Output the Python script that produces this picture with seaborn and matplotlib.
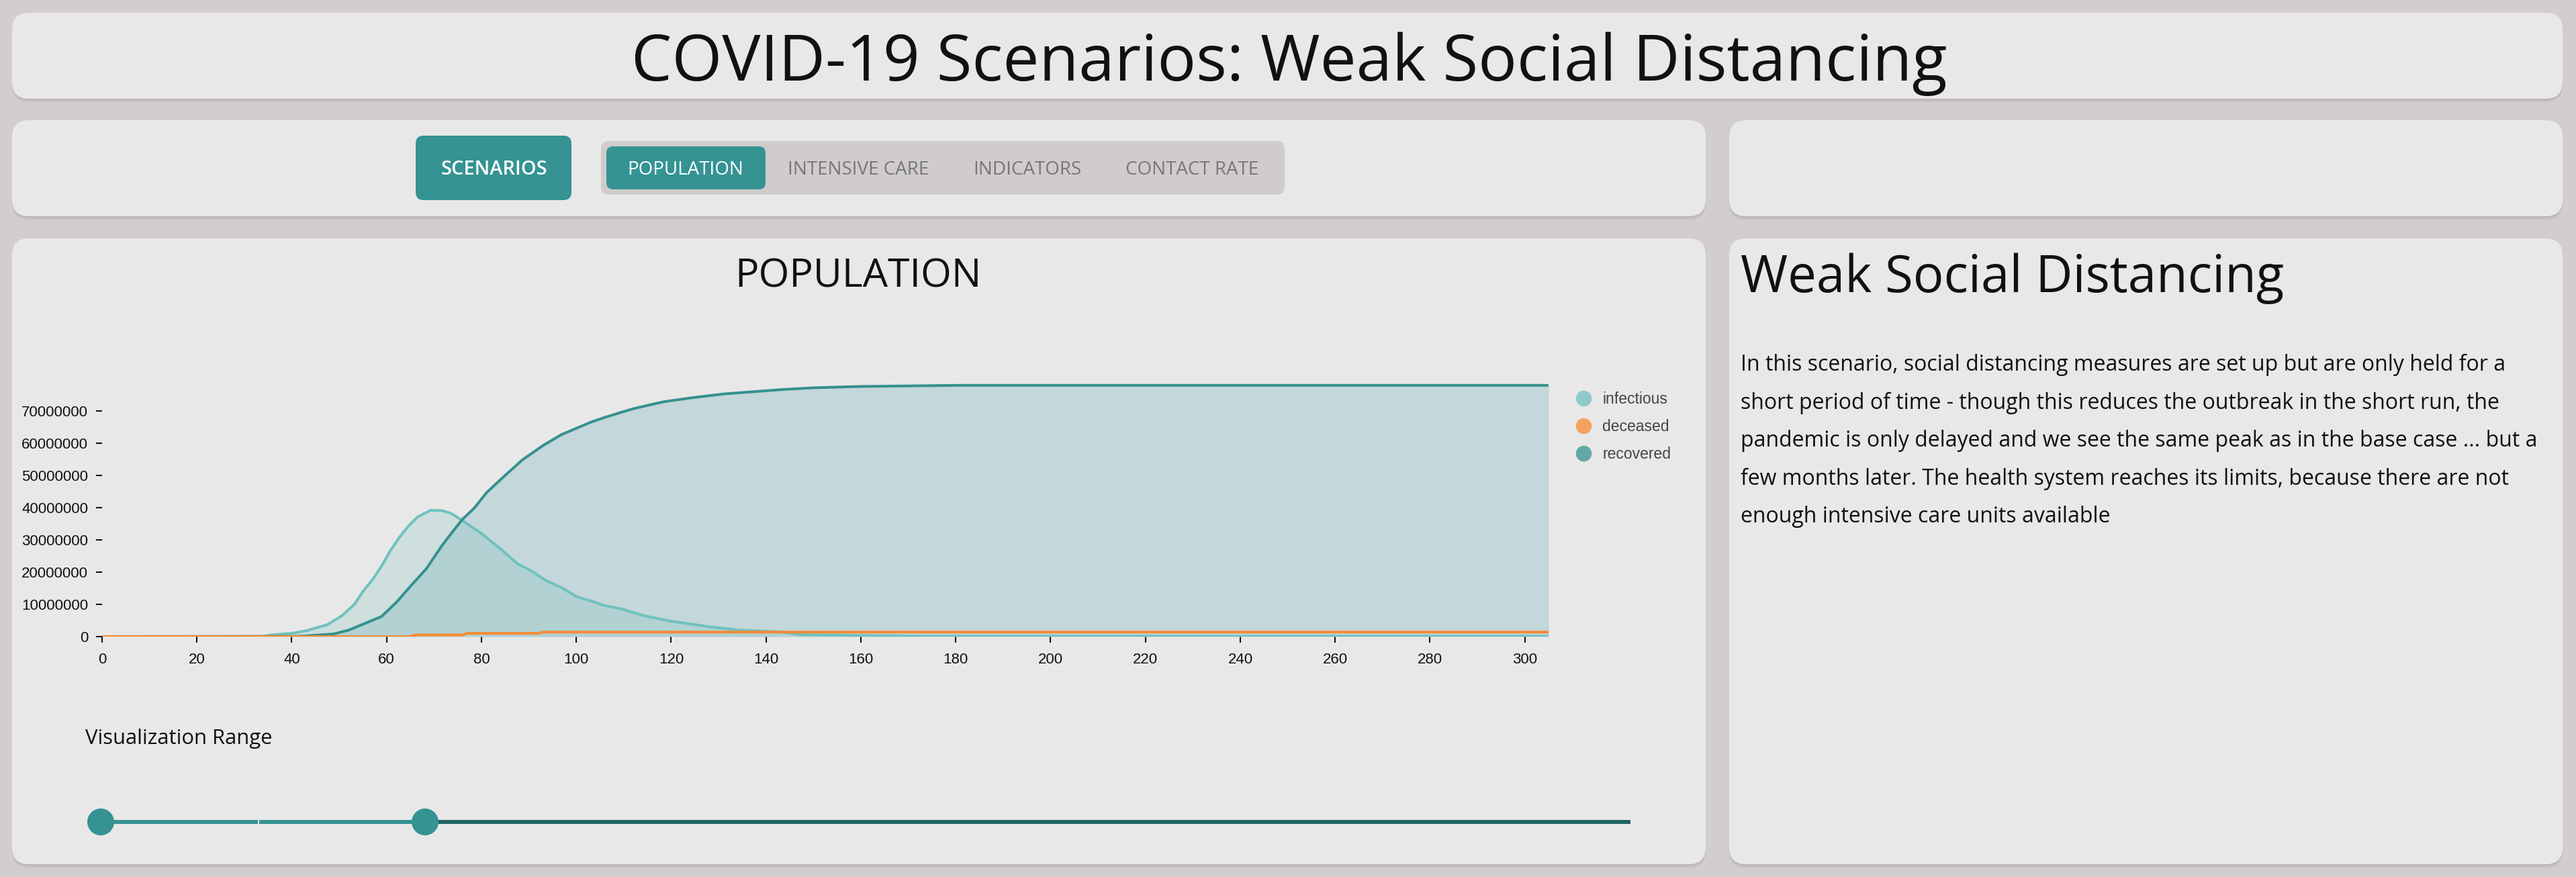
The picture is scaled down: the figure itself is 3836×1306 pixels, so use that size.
import matplotlib
matplotlib.use("Agg")
import matplotlib.pyplot as plt
import seaborn as sns
from matplotlib.patches import FancyBboxPatch, Circle, Rectangle
from matplotlib.transforms import IdentityTransform
from matplotlib.lines import Line2D

W, H = 3836, 1306

# ---------------- data (values in millions of people, x in days) ----------------
days_infectious = [0, 34, 35.5, 39.9, 43, 47.5, 50.6, 53.2, 55.1, 57, 58.9, 60.8, 62.7,
                   64.6, 66.5, 69.3, 71.6, 73.5, 76, 79.8, 84.2, 87.4, 90.5, 93.7,
                   96.9, 100, 103.2, 106, 109.5, 114.2, 119.9, 128.1, 134.4, 142.6,
                   147.7, 157.8, 173, 305]
infectious_m = [0, 0, 0.5, 1.0, 1.8, 3.7, 6.5, 10.0, 14.2, 17.6, 21.8, 26.7, 30.8,
                34.3, 37.1, 39.2, 39.1, 38.3, 36.0, 32.2, 27.0, 22.8, 20.4, 17.3,
                15.2, 12.4, 11.0, 9.6, 8.6, 6.5, 4.8, 3.05, 2.0, 1.5,
                0.6, 0.4, 0.12, 0.12]

days_recovered = [0, 41.8, 44.5, 48.8, 52, 55.1, 58.9, 62.1, 65.2, 68.4, 71.6, 74.1,
                  76, 78.5, 81.1, 84.9, 88.6, 93.1, 96.9, 103.2, 106, 109.5, 112.3,
                  115.8, 118.6, 124.9, 131.2, 137.6, 143.9, 150.2, 159.7, 180.6, 305]
recovered_m = [0, 0.1, 0.4, 0.8, 2.0, 3.9, 6.2, 10.7, 15.9, 21.1, 28.1, 32.9,
               36.4, 39.9, 44.7, 49.9, 54.8, 59.4, 62.7, 66.6, 68.0, 69.6, 70.8,
               72.0, 72.9, 74.2, 75.3, 76.0, 76.7, 77.2, 77.6, 77.95, 77.95]

days_deceased = [0, 65, 66, 76, 77, 92, 93, 305]
deceased_m = [0, 0, 0.5, 0.5, 1.0, 1.0, 1.4, 1.4]

series_names = ["infectious", "deceased", "recovered"]
y_ticks = [0, 10000000, 20000000, 30000000, 40000000, 50000000, 60000000, 70000000]
x_ticks = [0, 20, 40, 60, 80, 100, 120, 140, 160, 180, 200, 220, 240, 260, 280, 300]
tab_labels = ["POPULATION", "INTENSIVE CARE", "INDICATORS", "CONTACT RATE"]
page_title = "COVID-19 Scenarios: Weak Social Distancing"
chart_title = "POPULATION"
scenario_title = "Weak Social Distancing"
scenario_lines = [
    "In this scenario, social distancing measures are set up but are only held for a",
    "short period of time - though this reduces the outbreak in the short run, the",
    "pandemic is only delayed and we see the same peak as in the base case ... but a",
    "few months later. The health system reaches its limits, because there are not",
    "enough intensive care units available",
]

infectious = [v * 1e6 for v in infectious_m]
recovered = [v * 1e6 for v in recovered_m]
deceased = [v * 1e6 for v in deceased_m]

# ---------------- style ----------------
sns.set_style("white")
plt.rcParams["font.family"] = ["Open Sans", "DejaVu Sans"]

PAGE = "#d1cecd"
PANEL = "#e9e8e8"
TEAL = "#359393"
DARK_TEAL = "#1f6665"
C_INF_LINE = "#6fc2be"
C_REC_LINE = "#35918f"
C_DEC_LINE = "#f58a32"
C_LEG = {"infectious": "#8ecaca", "deceased": "#f2a25e", "recovered": "#62a8a8"}

fig = plt.figure(figsize=(W / 100, H / 100), dpi=100)
fig.patch.set_facecolor(PAGE)
ID = IdentityTransform()


def rbox(x0, y0, x1, y1, color, r, shadow=False, z=-10):
    if shadow:
        for dy, a in [(6, 0.08), (4, 0.12), (2, 0.18)]:
            fig.add_artist(FancyBboxPatch((x0, H - y1 - dy), x1 - x0, y1 - y0,
                                          boxstyle=f"round,pad=0,rounding_size={r}",
                                          transform=ID, fc="#8f8c8b", ec="none",
                                          alpha=a, zorder=z - 1))
    fig.add_artist(FancyBboxPatch((x0, H - y1), x1 - x0, y1 - y0,
                                  boxstyle=f"round,pad=0,rounding_size={r}",
                                  transform=ID, fc=color, ec="none", zorder=z))


def txt(x, y, s, px, **kw):
    kw.setdefault("va", "baseline")
    return fig.text(x, H - y, s, transform=ID, fontsize=px * 0.72, **kw)


# panels
rbox(18, 19, 3816, 147, PANEL, 25, shadow=True)
rbox(18, 179, 2540, 322, PANEL, 25, shadow=True)
rbox(2575, 179, 3816, 322, PANEL, 25, shadow=True)
rbox(18, 355, 2540, 1287, PANEL, 25, shadow=True)
rbox(2575, 355, 3816, 1287, PANEL, 25, shadow=True)

# title
txt(1920, 120, page_title, 96, ha="center", color="#111111")

# buttons / tabs
rbox(619, 202, 851, 298, TEAL, 12, z=-8)
txt(736, 260, "SCENARIOS", 29, ha="center", color="white", fontweight="semibold")
rbox(895, 210, 1913, 290, "#cfcccb", 12, z=-8)
rbox(903, 218, 1140, 282, TEAL, 10, z=-7)
tab_x = [1021, 1278, 1530, 1775]
for i, (lab, cx) in enumerate(zip(tab_labels, tab_x)):
    txt(cx, 260, lab, 27.8, ha="center", color="white" if i == 0 else "#777777")

# chart title
txt(1278, 427, chart_title, 59, ha="center", color="#111111")

# ---------------- chart ----------------
ax_left, ax_right, ax_bottom, ax_top = 152, 2306, 948, 540
ax = fig.add_axes([ax_left / W, (H - ax_bottom) / H, (ax_right - ax_left) / W,
                   (ax_bottom - ax_top) / H])
ax.set_facecolor("none")
ax.set_xlim(0, 305)
ax.set_ylim(0, (ax_bottom - ax_top) / 4.8e-6)

ax.fill_between(days_recovered, 0, recovered, color="#c4d7da", lw=0, zorder=1)
ax.fill_between(days_infectious, 0, infectious, color="#6ec0bd", alpha=0.22, lw=0, zorder=2)
sns.lineplot(x=days_infectious, y=infectious, color=C_INF_LINE, lw=2.9, ax=ax, zorder=3)
sns.lineplot(x=days_recovered, y=recovered, color=C_REC_LINE, lw=2.9, ax=ax, zorder=4)
sns.lineplot(x=days_deceased, y=deceased, color=C_DEC_LINE, lw=2.9, ax=ax, zorder=5)

for s in ax.spines.values():
    s.set_visible(False)
ax.set_xticks(x_ticks)
ax.set_yticks(y_ticks)
ax.set_yticklabels([str(v) for v in y_ticks])
ax.set_xticklabels([str(v) for v in x_ticks])
ax.tick_params(axis="y", left=True, length=6.5, width=1.5, color="#111111", pad=8.6,
               labelsize=16, labelcolor="#111111")
ax.tick_params(axis="x", bottom=True, length=6.5, width=1.5, color="#111111", pad=11,
               labelsize=16, labelcolor="#111111")
for lab in ax.get_xticklabels() + ax.get_yticklabels():
    lab.set_family(["Liberation Sans", "DejaVu Sans"])
ax.set_xlabel("")
ax.set_ylabel("")
ax.grid(False)

handles = [Line2D([0], [0], marker="o", ls="", ms=17, mfc=C_LEG[n], mec="none", label=n)
           for n in series_names]
leg = ax.legend(handles=handles, loc="upper left", bbox_to_anchor=(2347, H - 583),
                bbox_transform=ID, frameon=False, borderpad=0, borderaxespad=0,
                handlelength=1.0, handletextpad=0.72, labelspacing=0.78,
                prop={"family": ["Liberation Sans", "DejaVu Sans"], "size": 16.5})
for t in leg.get_texts():
    t.set_color("#444444")

# ---------------- slider ----------------
txt(127, 1108, "Visualization Range", 31, ha="left", color="#111111")
fig.add_artist(Rectangle((633, H - 1227), 2428 - 633, 6, transform=ID, fc=DARK_TEAL,
                         ec="none", zorder=2))
fig.add_artist(Rectangle((150, H - 1227), 633 - 150, 6, transform=ID, fc=TEAL,
                         ec="none", zorder=3))
fig.add_artist(Rectangle((384, H - 1227), 2, 6, transform=ID, fc="#e9e8e8",
                         ec="none", zorder=3.5))
for cx in (150, 633):
    fig.add_artist(Circle((cx, H - 1224), 20, transform=ID, fc=TEAL, ec="none", zorder=4))

# ---------------- scenario description ----------------
txt(2592, 435, scenario_title, 76, ha="left", color="#111111")
for i, line in enumerate(scenario_lines):
    txt(2592, 552 + i * 56.6, line, 32, ha="left", color="#111111")

fig.savefig("out.png", dpi=100, facecolor=PAGE)
